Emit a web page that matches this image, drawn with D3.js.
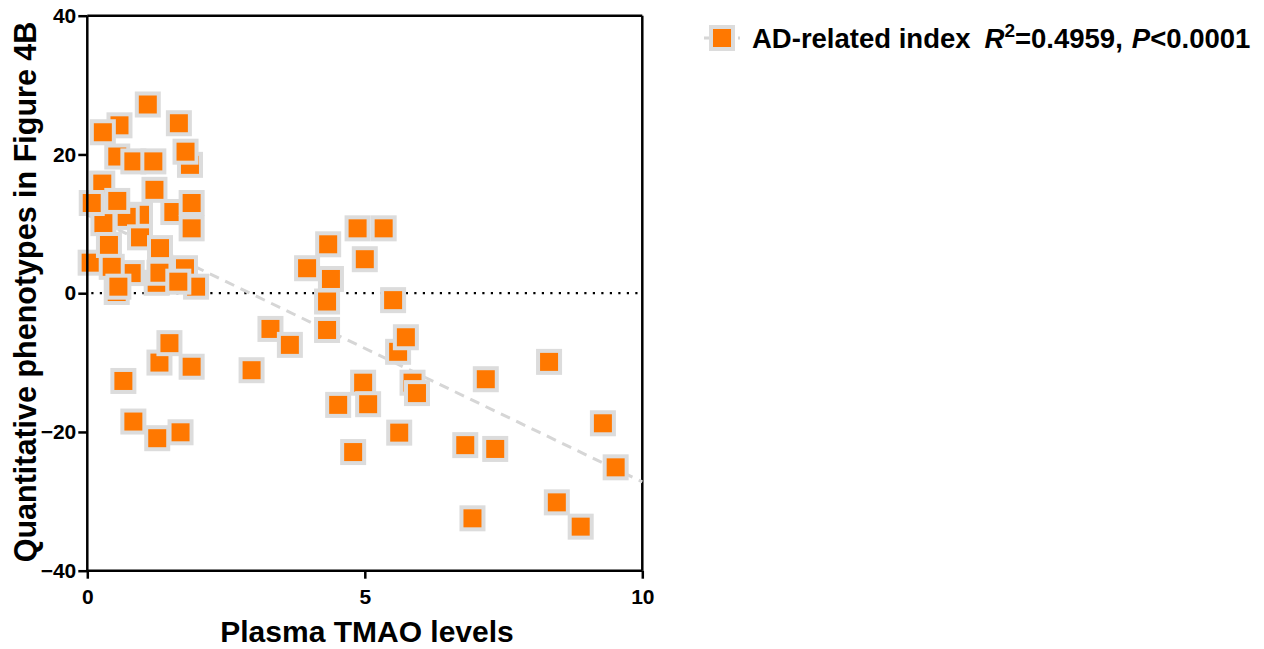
<!DOCTYPE html>
<html>
<head>
<meta charset="utf-8">
<script src="https://cdn.jsdelivr.net/npm/d3@7"></script>
<style>
  html, body { margin: 0; padding: 0; background: #ffffff; }
  svg { display: block; }
  text { font-family: "Liberation Sans", Arial, sans-serif; font-weight: bold; fill: #000; }
</style>
</head>
<body>
<svg id="chart" width="1264" height="649"></svg>
<script>
// ---- data ----
const plasmaTMAO = [
  0.58, 0.54, 1.85, 1.55, 0.95, 0.71, 0.29, 0.80, 1.76, 1.25, 0.53, 0.06,
  1.09, 0.28, 1.65, 0.83, 1.19, 1.77, 0.27, 1.21, 0.08, 0.54, 1.88, 1.88,
  0.39, 0.95, 1.31, 0.44, 1.30, 0.56, 1.96, 1.64,
  1.30, 1.48, 1.88, 0.65, 0.83, 1.26, 1.68,
  4.87, 5.34, 4.34, 5.00, 3.96, 4.39, 4.32, 5.51, 3.30, 3.65, 4.32, 2.96,
  5.60, 5.74, 5.86, 4.97, 5.94, 4.52, 5.06, 5.62, 4.79,
  7.18, 8.32, 9.29, 6.81, 7.35, 9.52, 6.94, 8.46, 8.89
];
const phenotypeIndex = [
  24.2, 19.7, 18.5, 11.7, 11.3, 11.0, 10.1, 2.9, 3.6, 1.5, 0.17, 4.4,
  27.2, 23.2, 24.5, 19.0, 19.0, 20.4, 15.8, 14.9, 13.0, 13.3, 13.0, 9.35,
  6.95, 8.05, 6.5, 3.8, 2.95, 0.94, 0.94, 1.66,
  -10.0, -7.2, -10.6, -12.65, -18.5, -20.9, -20.05,
  9.35, 9.35, 7.05, 4.9, 3.6, 2.05, -1.2, -1.0, -5.15, -7.45, -5.3, -11.1,
  -8.45, -6.35, -12.9, -12.9, -14.4, -16.1, -16.0, -20.1, -22.9,
  -12.4, -9.9, -18.75, -21.9, -22.45, -25.1, -32.45, -30.15, -33.65
];
const xTicks = [0, 5, 10];
const yTicks = [-40, -20, 0, 20, 40];
const regression = { slope: -3.85, intercept: 11.3 };
const xDomain = [0, 10];
const yDomain = [-40, 40];
const seriesName = "AD-related index";
const r2Text = "=0.4959";
const pText = "<0.0001";

// ---- layout ----
const svg = d3.select("#chart");
const x = d3.scaleLinear().domain(xDomain).range([87.3, 642.3]);
const y = d3.scaleLinear().domain(yDomain).range([570.7, 15.7]);

const ORANGE = "#ff7800";
const GREY = "#dcdcdc";

// frame lines (top and right)
svg.append("line").attr("x1", x(0)).attr("x2", x(10)).attr("y1", y(40)).attr("y2", y(40))
  .attr("stroke", "#000").attr("stroke-width", 2.5);
svg.append("line").attr("x1", x(10)).attr("x2", x(10)).attr("y1", y(40)).attr("y2", y(-40))
  .attr("stroke", "#000").attr("stroke-width", 2.5);

// zero dotted line
svg.append("line")
  .attr("x1", x(0) + 4).attr("x2", x(10)).attr("y1", y(0)).attr("y2", y(0))
  .attr("stroke", "#000").attr("stroke-width", 2.2)
  .attr("stroke-dasharray", "2.2,6.3");

// regression line
svg.append("line")
  .attr("x1", x(0)).attr("y1", y(regression.intercept))
  .attr("x2", x(10)).attr("y2", y(regression.intercept + regression.slope * 10))
  .attr("stroke", "#d6d6d6").attr("stroke-width", 3)
  .attr("stroke-dasharray", "10,7");

// points
const pts = plasmaTMAO.map((v, i) => [v, phenotypeIndex[i]]);
svg.append("g").selectAll("rect").data(pts).join("rect")
  .attr("x", d => x(d[0]) - 11).attr("y", d => y(d[1]) - 11)
  .attr("width", 22).attr("height", 22)
  .attr("fill", ORANGE).attr("stroke", GREY).attr("stroke-width", 4);

// axes
const yAxis = svg.append("g").attr("transform", `translate(${x(0)},0)`)
  .call(d3.axisLeft(y).tickValues(yTicks).tickSize(9).tickPadding(2).tickFormat(d3.format("d")));
const xAxis = svg.append("g").attr("transform", `translate(0,${y(-40)})`)
  .call(d3.axisBottom(x).tickValues(xTicks).tickSize(8).tickPadding(10).tickFormat(d3.format("d")));
[yAxis, xAxis].forEach(g => {
  g.select(".domain").attr("stroke", "#000").attr("stroke-width", 2.5);
  g.selectAll(".tick line").attr("stroke", "#000").attr("stroke-width", 2.5);
  g.selectAll(".tick text").style("font-family", '"Liberation Sans", Arial, sans-serif')
    .style("font-weight", "bold").style("font-size", "21px").attr("fill", "#000");
});
yAxis.select(".domain").attr("d", `M0,${y(40)}V${y(-40)}`);
xAxis.select(".domain").attr("d", `M${x(0)},0H${x(10)}`);

// axis titles
svg.append("text").attr("x", 367).attr("y", 642).attr("text-anchor", "middle")
  .style("font-size", "30px").text("Plasma TMAO levels");
svg.append("text").attr("transform", "translate(36,292) rotate(-90)").attr("text-anchor", "middle")
  .style("font-size", "30.5px").text("Quantitative phenotypes in Figure 4B");

// legend
const lg = svg.append("g");
lg.append("line").attr("x1", 704).attr("x2", 740).attr("y1", 38).attr("y2", 38)
  .attr("stroke", "#d6d6d6").attr("stroke-width", 3).attr("stroke-dasharray", "10,7");
lg.append("rect").attr("x", 722 - 11).attr("y", 38 - 11).attr("width", 22).attr("height", 22)
  .attr("fill", ORANGE).attr("stroke", GREY).attr("stroke-width", 4);
const lt = lg.append("text").attr("x", 752).attr("y", 48).style("font-size", "27.5px");
lt.append("tspan").text(seriesName);
lt.append("tspan").attr("dx", 14).style("font-style", "italic").text("R");
lt.append("tspan").attr("dy", -11).style("font-size", "19px").text("2");
lt.append("tspan").attr("dy", 11).text(r2Text + ",");
lt.append("tspan").attr("dx", 9).style("font-style", "italic").text("P");
lt.append("tspan").text(pText);
</script>
</body>
</html>
